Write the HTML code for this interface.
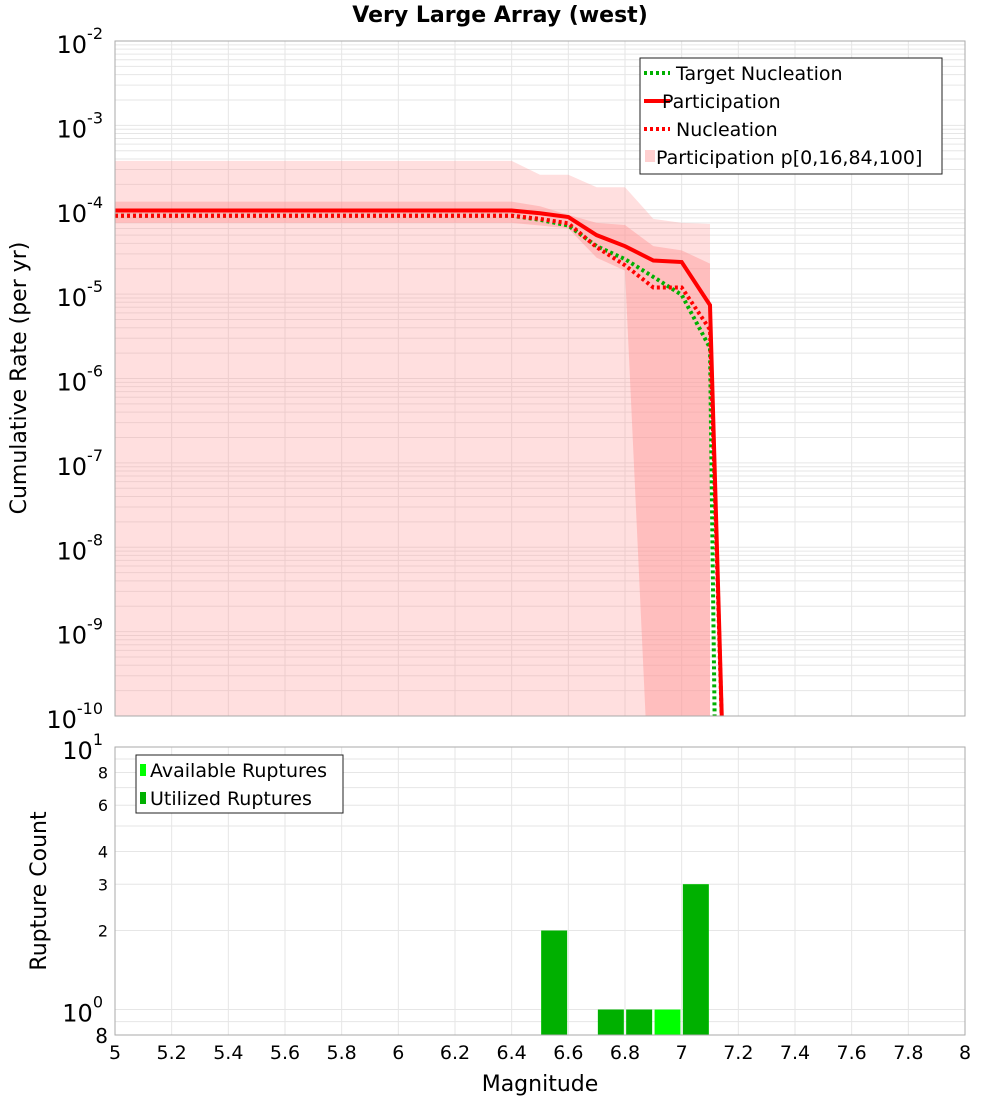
<!DOCTYPE html>
<html><head><meta charset="utf-8"><style>
body{margin:0;background:#fff;font-family:"DejaVu Sans","Liberation Sans",sans-serif}
svg text{font-family:"DejaVu Sans","Liberation Sans",sans-serif}
</style></head><body>
<svg id="c" width="1000" height="1100" xmlns="http://www.w3.org/2000/svg"></svg>
<script>
const mags=[5.05,5.15,5.25,5.35,5.45,5.55,5.65,5.75,5.85,5.95,6.05,6.15,6.25,6.35,6.4,6.5,6.6,6.7,6.8,6.9,7.0,7.1];
const xs=[5,6.4,6.5,6.6,6.7,6.8,6.9,7.0,7.1,7.15];
const participation=[9.8e-5,9.8e-5,9.1e-5,8.2e-5,5.0e-5,3.7e-5,2.5e-5,2.4e-5,7.4e-6,1e-11];
const nucleation=[8.5e-5,8.5e-5,7.8e-5,6.9e-5,3.6e-5,2.2e-5,1.2e-5,1.2e-5,3.8e-6,1e-11];
const targetX=[5,6.4,6.5,6.6,6.7,6.8,6.9,7.0,7.1,7.12];
const targetNuc=[8.5e-5,8.5e-5,7.6e-5,6.5e-5,3.7e-5,2.6e-5,1.6e-5,9.8e-6,2.3e-6,1e-11];
const bandX=[5,6.4,6.5,6.6,6.7,6.8,6.9,7.0,7.1];
const p100=[3.8e-4,3.8e-4,2.6e-4,2.6e-4,1.85e-4,1.85e-4,7.8e-5,7e-5,6.8e-5];
const p84=[1.25e-4,1.25e-4,1.1e-4,8.7e-5,7e-5,6.6e-5,3.7e-5,3.3e-5,2.3e-5];
const p16=[7e-5,7e-5,6.5e-5,6e-5,2.7e-5,1.9e-5,1e-12,1e-12,1e-12];
const barMags=[6.55,6.75,6.85,6.95,7.05];
const available=[2,1,1,1,3];
const utilized=[2,1,1,0,3];
const xTicks=[5,5.2,5.4,5.6,5.8,6,6.2,6.4,6.6,6.8,7,7.2,7.4,7.6,7.8,8];

const NS="http://www.w3.org/2000/svg",svg=document.getElementById('c');
function el(t,a,p){const e=document.createElementNS(NS,t);for(const k in a)e.setAttribute(k,a[k]);(p||svg).appendChild(e);return e;}
const L=115,R=965,T1=41,B1=716,T2=747,B2=1035;
const X=v=>L+(v-5)/3*(R-L);
const Y1=v=>T1+(-2-Math.log10(v))*(B1-T1)/8;
const D2=(B2-T2)/(1-Math.log10(0.8));
const Y2=v=>T2+(1-Math.log10(v))*D2;
const defs=el('defs',{});
const cp=el('clipPath',{id:'cp1'},defs);el('rect',{x:L,y:T1,width:R-L,height:B1-T1},cp);
// grids top
const g1=el('g',{});
for(let e=-10;e<-2;e++)for(let m=1;m<10;m++){const y=Y1(m*Math.pow(10,e));el('line',{x1:L,x2:R,y1:y,y2:y,stroke:'#e6e6e6','stroke-width':1},g1);}
xTicks.forEach(t=>{el('line',{x1:X(t),x2:X(t),y1:T1,y2:B1,stroke:'#e6e6e6'},g1);});
// bands
function poly(xa,top,bot,fill,name){let pts=xa.map((x,i)=>X(x)+','+Y1(top[i]));for(let i=xa.length-1;i>=0;i--)pts.push(X(xa[i])+','+Y1(bot[i]));const p=el('polygon',{points:pts.join(' '),fill:fill,'clip-path':'url(#cp1)'});}
const zero=bandX.map(()=>1e-12);
poly(bandX,p100,zero,'rgba(255,150,150,0.3)','band-0-100');
poly(bandX,p84,p16,'rgba(255,150,150,0.45)','band-16-84');
function line(xa,ya,stroke,dash,name){const p=el('polyline',{points:xa.map((x,i)=>X(x)+','+Y1(ya[i])).join(' '),fill:'none',stroke:stroke,'stroke-width':4,'clip-path':'url(#cp1)'});if(dash)p.setAttribute('stroke-dasharray',dash);}
line(targetX,targetNuc,'#00b000','3 3','target-nucleation-line');
line(xs,nucleation,'#ff0000','3 3','nucleation-line');
line(xs,participation,'#ff0000',null,'participation-line');
el('rect',{x:L,y:T1,width:R-L,height:B1-T1,fill:'none',stroke:'#aaa'});
// y labels top
for(let e=-10;e<=-2;e++){const y=Y1(Math.pow(10,e));const t=el('text',{x:103,y:y+12,'text-anchor':'end','font-size':24});t.textContent='10';const s=el('tspan',{dy:-14,'font-size':16},t);s.textContent=String(e);}
let t=el('text',{x:500,y:22,'text-anchor':'middle','font-size':22,'font-weight':'bold'});t.textContent='Very Large Array (west)';
t=el('text',{x:0,y:0,transform:'translate(26,378) rotate(-90)','text-anchor':'middle','font-size':22});t.textContent='Cumulative Rate (per yr)';
// legend top
const lg=el('g',{});
el('rect',{x:640,y:58,width:302,height:116,fill:'#fff',stroke:'#222'},lg);
[['Target Nucleation','#00b000','3 3'],['Participation','#ff0000',null],['Nucleation','#ff0000','3 3']].forEach((d,i)=>{const y=73+i*28;const l=el('line',{x1:644,x2:670,y1:y,y2:y,stroke:d[1],'stroke-width':4},lg);if(d[2])l.setAttribute('stroke-dasharray',d[2]);const tx=el('text',{x:i==1?662:676,y:y+7,'font-size':19},lg);tx.textContent=d[0];});
el('rect',{x:645,y:150,width:10,height:12,fill:'#ffd0d0'},lg);
t=el('text',{x:656,y:164,'font-size':19},lg);t.textContent='Participation p[0,16,84,100]';
// bottom plot
const g2=el('g',{});
[0.8,0.9,1,2,3,4,5,6,7,8,9,10].forEach(v=>{const y=Y2(v);el('line',{x1:L,x2:R,y1:y,y2:y,stroke:'#e6e6e6'},g2);});
xTicks.forEach(tk=>{el('line',{x1:X(tk),x2:X(tk),y1:T2,y2:B2,stroke:'#e6e6e6'},g2);});
const bw=X(5.1)-X(5)-2.5;
barMags.forEach((m,i)=>{let r=el('rect',{x:X(m)-bw/2,y:Y2(available[i]),width:bw,height:B2-Y2(available[i]),fill:'#00ff00'});
if(utilized[i]>0){r=el('rect',{x:X(m)-bw/2,y:Y2(utilized[i]),width:bw,height:B2-Y2(utilized[i]),fill:'#00b000'});}});
el('rect',{x:L,y:T2,width:R-L,height:B2-T2,fill:'none',stroke:'#aaa'});
[[10,'10','1'],[1,'10','0']].forEach(d=>{const y=Y2(d[0]);const tx=el('text',{x:103,y:y+12,'text-anchor':'end','font-size':24});tx.textContent=d[1];const s=el('tspan',{dy:-14,'font-size':16},tx);s.textContent=d[2];});
[[8,'8'],[6,'6'],[4,'4'],[3,'3'],[2,'2']].forEach(d=>{const tx=el('text',{x:108,y:Y2(d[0])+6,'text-anchor':'end','font-size':16});tx.textContent=d[1];});
t=el('text',{x:108,y:B2+8,'text-anchor':'end','font-size':20});t.textContent='8';
t=el('text',{x:0,y:0,transform:'translate(46,891) rotate(-90)','text-anchor':'middle','font-size':22});t.textContent='Rupture Count';
xTicks.forEach(tk=>{const tx=el('text',{x:X(tk),y:1059,'text-anchor':'middle','font-size':19});tx.textContent=String(+tk.toFixed(1));});
t=el('text',{x:540,y:1091,'text-anchor':'middle','font-size':22});t.textContent='Magnitude';
const lg2=el('g',{});
el('rect',{x:136,y:755,width:207,height:58,fill:'#fff',stroke:'#222'},lg2);
[['Available Ruptures','#00ff00'],['Utilized Ruptures','#00b000']].forEach((d,i)=>{const y=770+i*28;el('rect',{x:140,y:y-6,width:6,height:12,fill:d[1]},lg2);const tx=el('text',{x:150,y:y+7,'font-size':19},lg2);tx.textContent=d[0];});
</script>
</body></html>
